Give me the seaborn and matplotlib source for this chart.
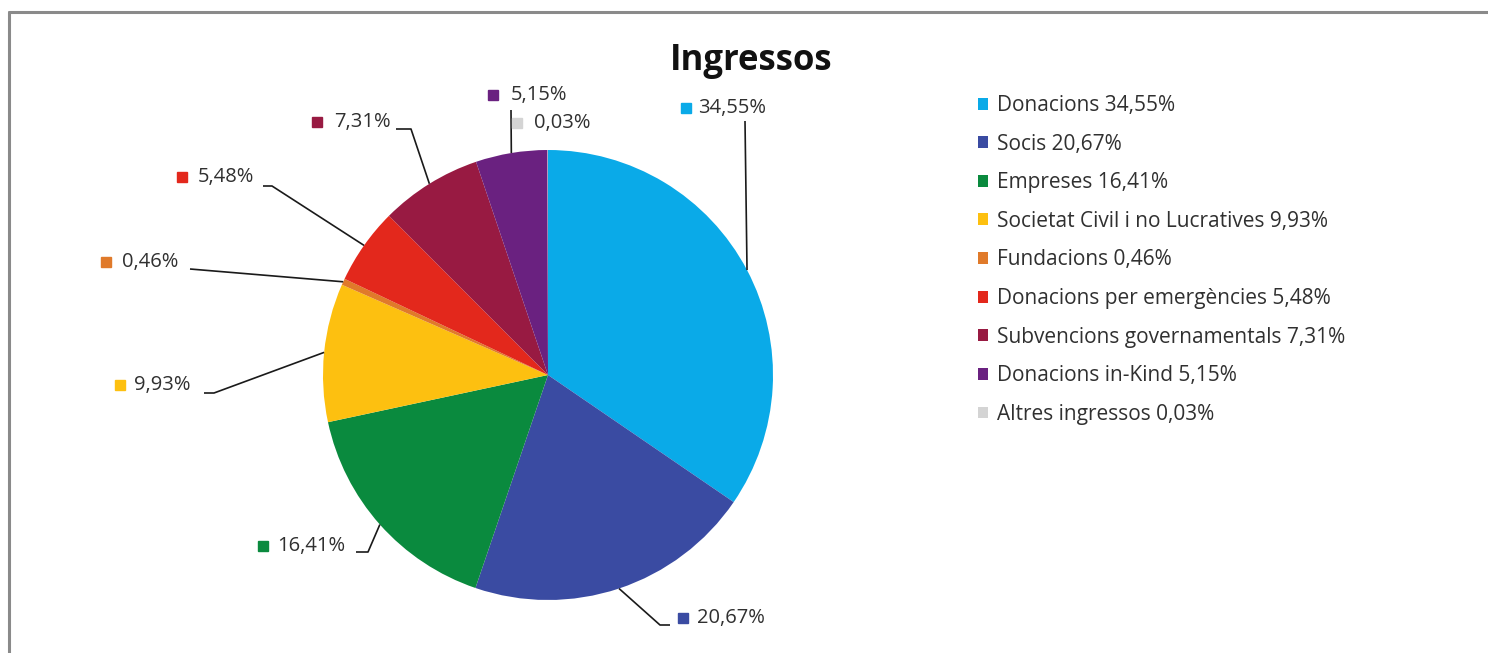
import matplotlib
matplotlib.use("Agg")
import matplotlib.pyplot as plt
import seaborn as sns
from matplotlib.lines import Line2D
import numpy as np

sns.set_theme(style="white")
plt.rcParams['font.family'] = ['Open Sans', 'DejaVu Sans']

# ---------------- data ----------------
categories = ["Donacions", "Socis", "Empreses", "Societat Civil i no Lucratives",
              "Fundacions", "Donacions per emergències", "Subvencions governamentals",
              "Donacions in-Kind", "Altres ingressos"]
values = [34.55, 20.67, 16.41, 9.93, 0.46, 5.48, 7.31, 5.15, 0.03]
colors = ["#0AAAE8", "#3A4BA2", "#0A8A3E", "#FDC010", "#E07A2A",
          "#E3281C", "#981A42", "#6A2180", "#D4D4D4"]
title = "Ingressos"

W, H = 1488, 653


def Y(y):
    return H - y


def pct(v):
    return f"{v:.2f}".replace(".", ",") + "%"


fig = plt.figure(figsize=(W / 100, H / 100), dpi=100)
ax = fig.add_axes([0, 0, 1, 1])
cx, cy, R = 548, Y(375), 225
wedges, _ = ax.pie(values, colors=colors, startangle=90, counterclock=False,
                   center=(cx, cy), radius=R, wedgeprops=dict(linewidth=0))
ax.set_xlim(0, W)
ax.set_ylim(0, H)
ax.set_aspect('equal')
ax.axis('off')

# label layout (pixel positions, image coords): marker centre, text x, text y, leader bend points
layout = [
    dict(m=(686, 108), tx=698, ty=108, path=[(745, 121)]),
    dict(m=(683, 618), tx=697, ty=618, path=[(660, 625), (670, 625)]),
    dict(m=(263, 546), tx=277, ty=546, path=[(368, 552), (356, 552)]),
    dict(m=(120, 385), tx=134, ty=385, path=[(214, 393), (204, 393)]),
    dict(m=(106, 262), tx=122, ty=262, path=[(190, 269)]),
    dict(m=(182, 177), tx=198, ty=177, path=[(272, 186), (263, 186)]),
    dict(m=(317, 122), tx=334, ty=122, path=[(411, 129), (396, 129)]),
    dict(m=(493, 95), tx=511, ty=95, path=[(511, 110)]),
    dict(m=(517, 123), tx=534, ty=123, path=None),
]

for w, v, c, L in zip(wedges, values, colors, layout):
    th = np.deg2rad((w.theta1 + w.theta2) / 2)
    ax_ = cx + R * np.cos(th)
    ay_ = cy + R * np.sin(th)
    if L['path']:
        xs = [ax_] + [p[0] for p in L['path']]
        ys = [ay_] + [Y(p[1]) for p in L['path']]
        ax.plot(xs, ys, color="#1a1a1a", lw=1.2, solid_capstyle='butt')
    ax.plot(L['m'][0], Y(L['m'][1]), marker='s', ms=7, color=c, mec=c)
    ax.text(L['tx'], Y(L['ty']), pct(v), ha='left', va='center',
            fontsize=14.5, color='#303030')

ax.text(751, Y(61), title, ha='center', va='center', fontsize=25,
        weight='bold', color='#111111')

leg_labels = [f"{n} {pct(v)}" for n, v in zip(categories, values)]
ax.legend(wedges, leg_labels, loc='upper left',
          bbox_to_anchor=(978 / W, 1 - 95 / H), frameon=False, fontsize=15,
          handlelength=0.5, handleheight=0.5, handletextpad=0.4,
          labelspacing=0.845, borderaxespad=0, borderpad=0,
          labelcolor='#303030')

fig.add_artist(Line2D([9 / W, 9 / W], [0, 1 - 12 / H], transform=fig.transFigure,
                      color='#8a8a8a', lw=2.2))
fig.add_artist(Line2D([9 / W, 1], [1 - 12 / H, 1 - 12 / H], transform=fig.transFigure,
                      color='#8a8a8a', lw=2.2))

fig.savefig("out.png", dpi=100, facecolor='white')
